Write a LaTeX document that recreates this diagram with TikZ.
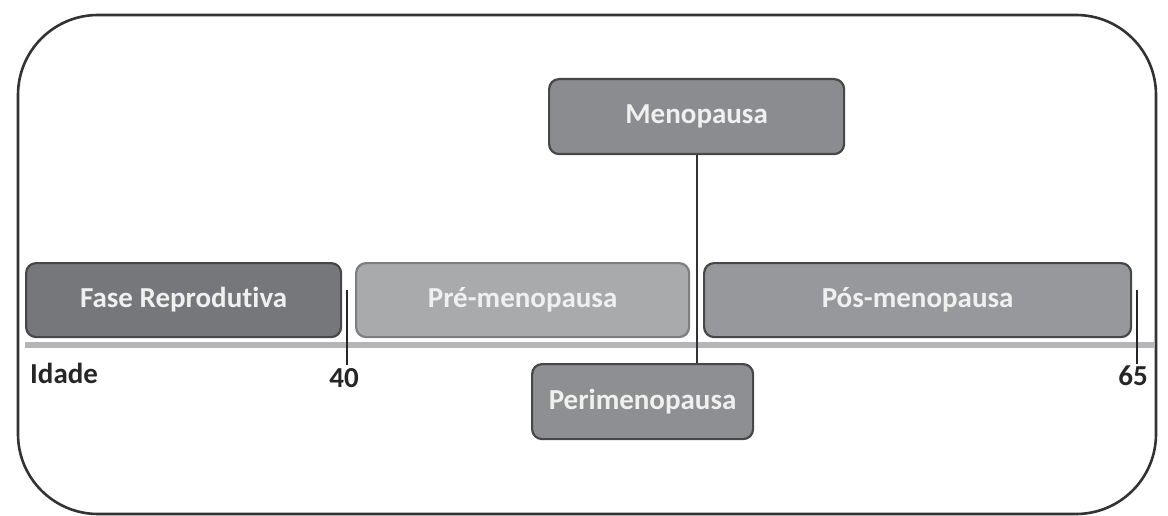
\documentclass[tikz,border=0pt]{standalone}
\usepackage{fontspec}
\setmainfont[Ligatures=NoCommon]{Carlito}
\definecolor{frame}{HTML}{333333}
\definecolor{bdark}{HTML}{474747}
\definecolor{blight}{HTML}{7E7E80}
\definecolor{fase}{HTML}{76777A}
\definecolor{meno}{HTML}{8B8C8F}
\definecolor{peri}{HTML}{8E8F92}
\definecolor{pre}{HTML}{A9AAAC}
\definecolor{pos}{HTML}{97989B}
\definecolor{bar}{HTML}{B5B5B7}
\definecolor{txtw}{HTML}{F0F0F0}
\tikzset{
  phase/.style={draw=bdark, line width=2.2pt, rounded corners=10pt, inner sep=0pt,
    text=txtw, font=\fontsize{29}{33}\selectfont\bfseries, anchor=north west},
  lbl/.style={font=\fontsize{29}{33}\selectfont\bfseries, text=black!85, inner sep=0pt},
  tick/.style={draw=black!85, line width=2pt}
}
\begin{document}
\begin{tikzpicture}[x=1pt,y=-1pt]
\useasboundingbox (0,0) rectangle (1168,516);
\draw[frame, line width=2.6pt, rounded corners=80pt] (18,15) rectangle (1156,514);
% timeline bar
\fill[bar] (25,342) rectangle (1155,348);
% boxes
\node[phase, fill=fase, minimum width=315pt, minimum height=74pt] (fase) at (25,262) {Fase Reprodutiva};
\node[phase, fill=pre, draw=blight, minimum width=333pt, minimum height=74pt] (pre) at (355,262) {Pré-menopausa};
\node[phase, fill=pos, minimum width=427pt, minimum height=74pt] (pos) at (703,262) {Pós-menopausa};
\node[phase, fill=meno, minimum width=295pt, minimum height=75pt] (meno) at (548,78) {Menopausa};
\node[phase, fill=peri, minimum width=221pt, minimum height=75pt] (peri) at (531,363) {Perimenopausa};
% connector
\coordinate (mb) at (697,153);
\coordinate (pt) at (697,363);
\draw[draw=black!80, line width=2pt] (meno.south -| mb) -- (peri.north -| pt);
% ticks
\coordinate (t40a) at (347,290);
\coordinate (t40b) at (347,365);
\coordinate (t65a) at (1137,290);
\coordinate (t65b) at (1137,364);
\draw[tick] (t40a) -- (t40b);
\draw[tick] (t65a) -- (t65b);
\node[lbl, anchor=north] (n40) at (344,368) {40};
\node[lbl, anchor=north] (n65) at (1133,366) {65};
\node[lbl, anchor=west] (idade) at (30,373) {Idade};
\end{tikzpicture}
\end{document}
